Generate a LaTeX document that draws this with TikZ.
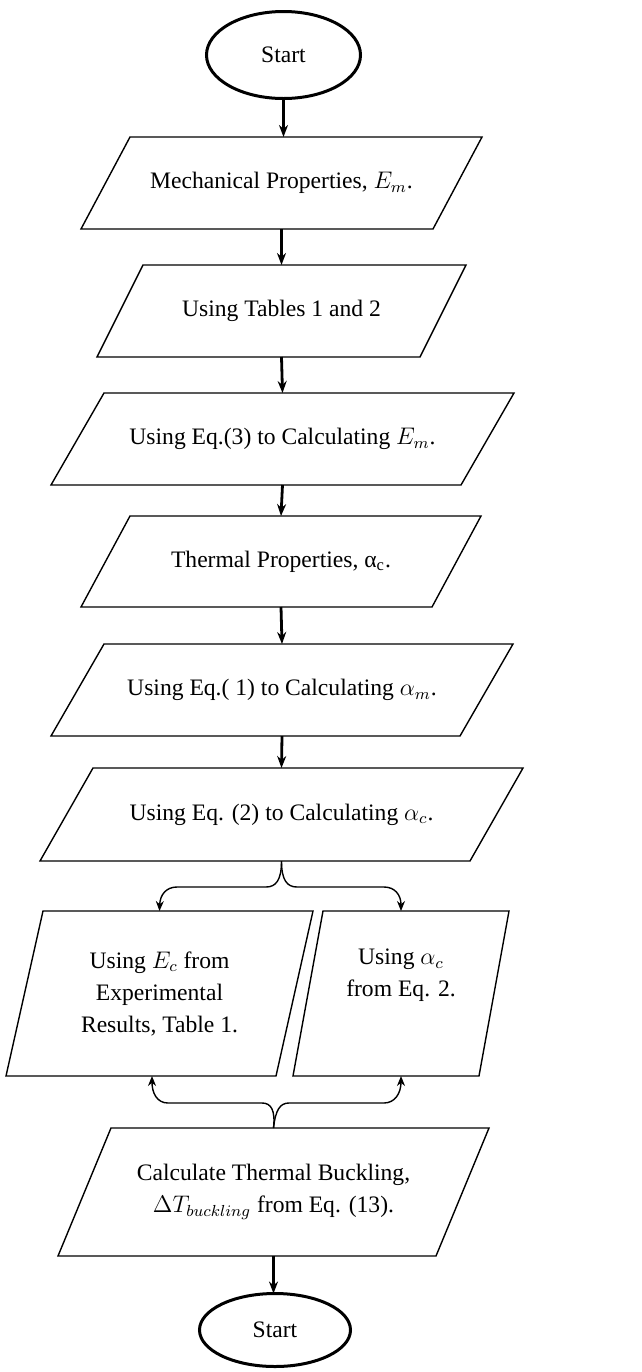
\documentclass[tikz,border=0pt]{standalone}
\usepackage{fontspec}
\setmainfont{Liberation Serif}
\usetikzlibrary{shapes.geometric,arrows.meta,calc}
\tikzset{
  txt/.style={font=\fontsize{11.8}{16}\selectfont, align=center, inner sep=0pt, outer sep=0pt},
  term/.style={txt, ellipse, draw, line width=1.5pt},
  pbox/.style={txt, rectangle, draw=none},
  para/.style={line width=0.7pt, line join=miter},
  flow/.style={line width=1.4pt, -{Stealth[length=6pt,width=4.5pt]}},
  brace/.style={line width=0.7pt, -{Stealth[length=5pt,width=4pt]}},
}
% draw parallelogram around a node: #1 node name, #2 slant (px)
\newcommand{\drawpara}[2]{%
  \draw[para] ($(#1.north west)+(#2,0)$) -- (#1.north east) -- ($(#1.south east)-(#2,0)$) -- (#1.south west) -- cycle;}
\begin{document}
\begin{tikzpicture}[x=0.5pt,y=-0.5pt]
\useasboundingbox (0,0) rectangle (642,1372);

\node[term, minimum width=77pt, minimum height=43.5pt] (start) at (283.5,55) {Start};

\node[pbox, minimum width=200.5pt, minimum height=46pt] (b1) at (281.5,183) {Mechanical Properties, $E_m$.};
\drawpara{b1}{49}
\node[pbox, minimum width=184.5pt, minimum height=46pt] (b2) at (281.5,311) {Using Tables 1 and 2};
\drawpara{b2}{46}
\node[pbox, minimum width=231.5pt, minimum height=46pt] (b3) at (282.5,439) {Using Eq.(3) to Calculating $E_m$.};
\drawpara{b3}{53}
\node[pbox, minimum width=200pt, minimum height=45.5pt] (b4) at (281,561.5) {Thermal Properties, α\textsubscript{c}.};
\drawpara{b4}{49}
\node[pbox, minimum width=231pt, minimum height=46pt] (b5) at (282,690) {Using Eq.( 1) to Calculating $\alpha_m$.};
\drawpara{b5}{53}
\node[pbox, minimum width=241.5pt, minimum height=46.5pt] (b6) at (281.5,814.5) {Using Eq. (2) to Calculating $\alpha_c$.};
\drawpara{b6}{53}
\node[pbox, minimum width=153.5pt, minimum height=82.5pt] (bl) at (159.5,993.5) {Using $E_c$ from\\Experimental\\Results, Table 1.};
\drawpara{bl}{37}
\node[pbox, minimum width=108pt, minimum height=82.5pt] (br) at (401,993.5) {Using $\alpha_c$\\from Eq. 2.\\\strut};
\drawpara{br}{30}
\node[pbox, minimum width=215.5pt, minimum height=64pt] (b7) at (273.5,1192) {Calculate Thermal Buckling,\\$\Delta T_{buckling}$ from Eq. (13).};
\drawpara{b7}{53}

\node[term, minimum width=75.5pt, minimum height=36.5pt] (stop) at (275,1330) {Start};

% straight connectors
\draw[flow] (start.south) -- (start.south |- b1.north);
\draw[flow] (b1.south) -- (b2.north);
\draw[flow] (b2.south) -- (b3.north);
\draw[flow] (b3.south) -- (b4.north);
\draw[flow] (b4.south) -- (b5.north);
\draw[flow] (b5.south) -- (b6.north);
\draw[flow] (b7.south) -- (b7.south |- stop.north);

% upper brace
\coordinate (ul1) at (266,887);
\coordinate (ul2) at (177,887);
\coordinate (ur1) at (297,887);
\coordinate (ur2) at (384,887);
\draw[brace] (b6.south) .. controls (281.5,880) and (276,887) .. (ul1) -- (ul2) .. controls (166,887) and (160,895) .. (bl.north);
\draw[brace] (b6.south) .. controls (281.5,880) and (287,887) .. (ur1) -- (ur2) .. controls (395,887) and (401,895) .. (br.north);

% lower brace
\coordinate (ll1) at (262,1103);
\coordinate (ll2) at (168,1103);
\coordinate (lr1) at (289,1103);
\coordinate (lr2) at (384,1103);
\coordinate (blt) at (152,1076);
\draw[brace] (b7.north) .. controls (275.5,1110) and (271,1103) .. (ll1) -- (ll2) .. controls (157,1103) and (152,1093) .. (blt);
\draw[brace] (b7.north) .. controls (275.5,1110) and (280,1103) .. (lr1) -- (lr2) .. controls (395,1103) and (401,1093) .. (br.south);
\end{tikzpicture}
\end{document}
